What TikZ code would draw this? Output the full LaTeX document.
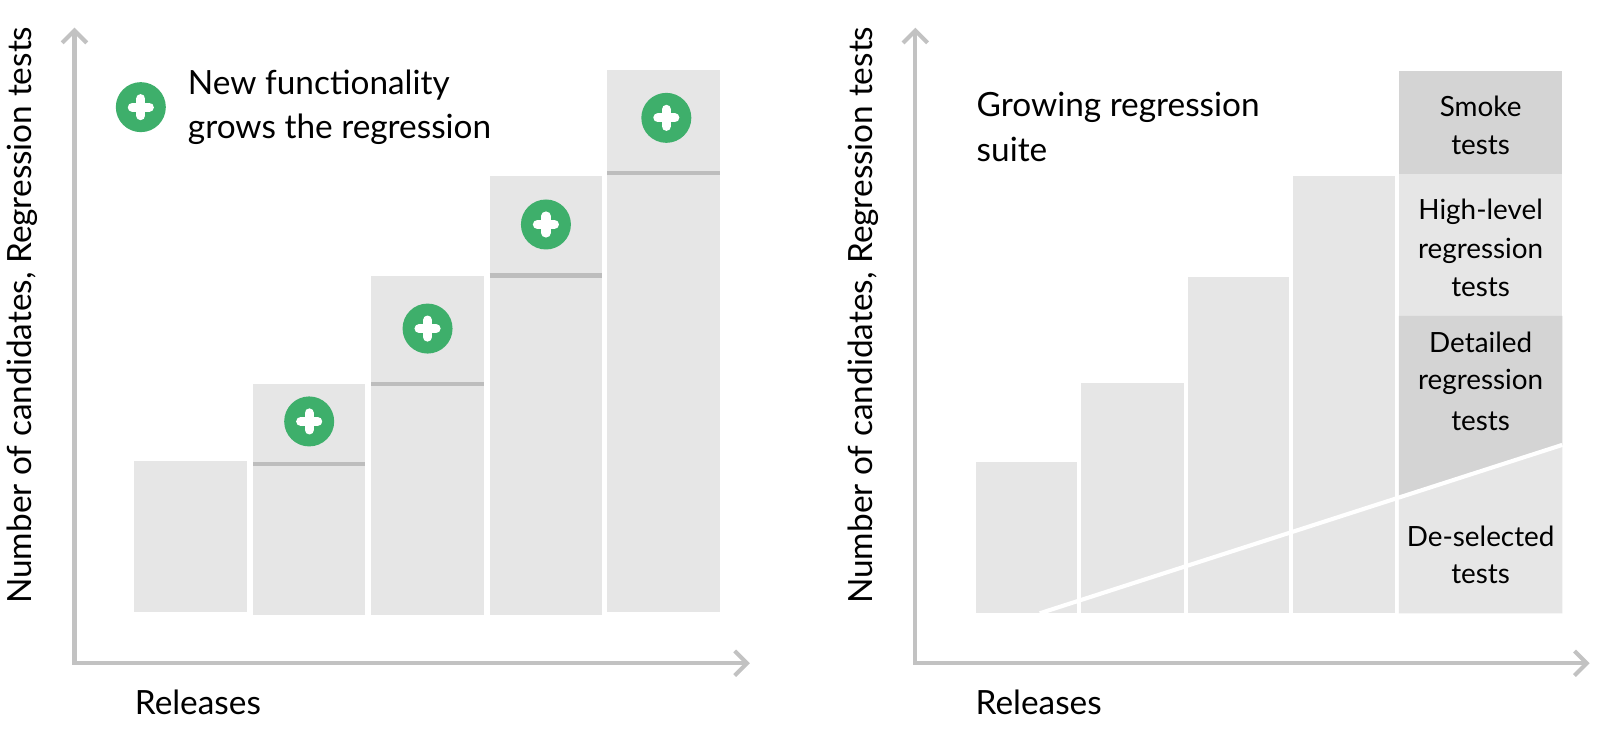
\documentclass[tikz,border=0pt]{standalone}
\usepackage{fontspec}
\setmainfont{Lato}
\definecolor{axisgray}{HTML}{C2C2C2}
\definecolor{bargray}{HTML}{E6E6E6}
\definecolor{bardark}{HTML}{D4D4D4}
\definecolor{linegray}{HTML}{BDBDBD}
\definecolor{plusgreen}{HTML}{3EAF6B}
\begin{document}
\begin{tikzpicture}[x=1pt,y=-1pt,
  axis/.style={draw=axisgray,line width=4,line join=miter},
  chev/.style={draw=axisgray,line width=4,line join=miter},
  level/.style={draw=linegray,line width=4},
  big/.style={font=\fontsize{32.7}{39}\selectfont,inner sep=0,text=black},
  small/.style={font=\fontsize{27.3}{37.5}\selectfont,inner sep=0,text=black,anchor=base},
  plusicon/.pic={
    \fill[plusgreen] (0,0) circle[radius=24.5];
    \draw[white,line width=9,line cap=round] (-8.3,0) -- (8.3,0) (0,-8.3) -- (0,8.3);
  }]
\useasboundingbox[fill=white] (0,0) rectangle (1568,735);

% ---------------- left panel ----------------
\coordinate (L0) at (73,650);
\coordinate (Ltop) at (73,30);
\coordinate (Lright) at (732,650);
\fill[bargray] (131,452) rectangle (242,600);
\fill[bargray] (248,376) rectangle (358,603);
\fill[bargray] (364,270) rectangle (474,603);
\fill[bargray] (480,172) rectangle (590,603);
\fill[bargray] (595,68.5) rectangle (706,600);
\draw[level] (248,454.5) -- (358,454.5);
\draw[level] (364,376) -- (474,376);
\draw[level] (480,270) -- (590,270);
\draw[level] (595,169.5) -- (706,169.5);
\pic (pl0) at (138,105) {plusicon};
\pic (pl1) at (303,413) {plusicon};
\pic (pl2) at (419,322) {plusicon};
\pic (pl3) at (535,220) {plusicon};
\pic (pl4) at (653,115.5) {plusicon};
\draw[axis] (Ltop) -- (L0) -- (Lright);
\draw[chev] ([shift={(-12,12)}]Ltop) -- (Ltop) -- ([shift={(12,12)}]Ltop);
\draw[chev] ([shift={(-12,-12)}]Lright) -- (Lright) -- ([shift={(-12,12)}]Lright);
\node[big,anchor=base west] (leg1) at (184,93) {New functionality};
\node[big,anchor=base west] (leg2) at (184,135.6) {grows the regression};
\node[big,anchor=base west] (relL) at (132,700) {Releases};
\node[big,anchor=base west,rotate=90] (ylL) at (31,592) {Number of candidates, Regression tests};

% ---------------- right panel ----------------
\coordinate (R0) at (897,650);
\coordinate (Rtop) at (897,30);
\coordinate (Rright) at (1555,650);
\fill[bargray] (956,453) rectangle (1055,601);
\fill[bargray] (1059,375) rectangle (1160,601);
\fill[bargray] (1164,271) rectangle (1263,601);
\fill[bargray] (1267,172) rectangle (1367,601);
\fill[bardark] (1371,70) rectangle (1531,171);
\fill[bargray] (1371,171) rectangle (1531,309.5);
\fill[bardark] (1371,309.5) -- (1531,309.5) -- (1531,436) -- (1371,487.6) -- cycle;
\fill[bargray] (1371,487.6) -- (1531,436) -- (1531,601) -- (1371,601) -- cycle;
\coordinate (dsA) at (1019,601);
\coordinate (dsB) at (1531,436);
\draw[white,line width=4] (dsA) -- (dsB);
\draw[axis] (Rtop) -- (R0) -- (Rright);
\draw[chev] ([shift={(-12,12)}]Rtop) -- (Rtop) -- ([shift={(12,12)}]Rtop);
\draw[chev] ([shift={(-12,-12)}]Rright) -- (Rright) -- ([shift={(-12,12)}]Rright);
\node[big,anchor=base west] (ttl1) at (957,114.5) {Growing regression};
\node[big,anchor=base west] (ttl2) at (957,158.5) {suite};
\node[big,anchor=base west] (relR) at (956,700) {Releases};
\node[big,anchor=base west,rotate=90] (ylR) at (855,592) {Number of candidates, Regression tests};

\node[small] (sm1) at (1451,114.5) {Smoke};
\node[small] (sm2) at (1451,151) {tests};
\node[small] (hl1) at (1451,215.6) {High-level};
\node[small] (hl2) at (1451,253) {regression};
\node[small] (hl3) at (1451,291) {tests};
\node[small] (dt1) at (1451,345) {Detailed};
\node[small] (dt2) at (1451,382) {regression};
\node[small] (dt3) at (1451,421.5) {tests};
\node[small] (ds1) at (1451,536) {De-selected};
\node[small] (ds2) at (1451,571.7) {tests};
\end{tikzpicture}
\end{document}
